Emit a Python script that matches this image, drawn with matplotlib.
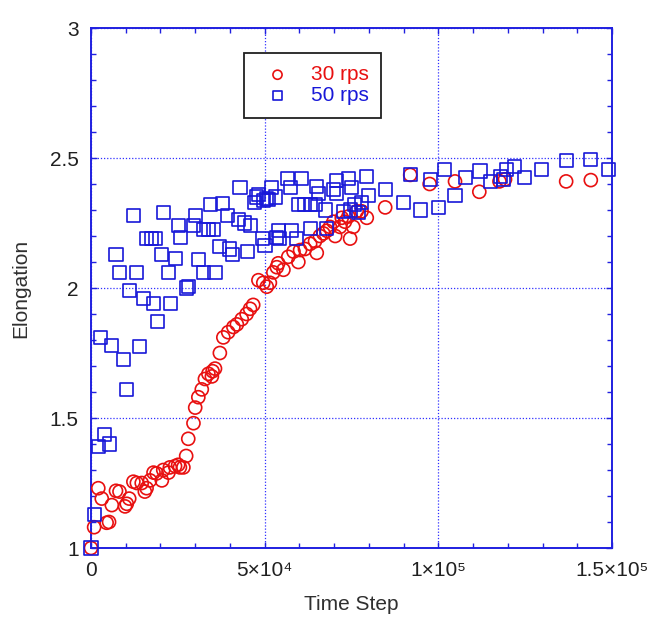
import matplotlib
matplotlib.use("Agg")
import matplotlib.pyplot as plt
from matplotlib.ticker import MultipleLocator, FixedLocator
import numpy as np

# ---- data (time step in thousands, elongation) ----
x30_k = [0, 0.9, 2.1, 3.1, 4.5, 5.2, 6.0, 7.2, 8.2, 9.8, 10.3, 11.0, 12.2, 13.2, 14.6,
         15.5, 16.0, 17.0, 18.0, 18.9, 20.4, 20.8, 22.3, 22.7, 24.2, 25.1, 25.6, 26.6,
         27.4, 28.0, 29.5, 30.0, 30.9, 31.9, 32.8, 33.8, 34.8, 35.0, 35.7, 37.1, 38.1,
         39.5, 41.0, 42.0, 43.4, 44.8, 45.8, 46.7, 48.2, 49.6, 50.6, 51.5, 52.5, 53.5,
         53.9, 55.4, 56.8, 58.3, 59.7, 60.2, 61.6, 63.1, 64.5, 65.0, 65.9, 66.9, 67.9,
         68.8, 69.8, 70.3, 71.7, 72.2, 73.1, 74.1, 74.6, 75.5, 76.5, 77.9, 79.4, 84.7,
         91.9, 97.5, 104.8, 111.8, 117.6, 119.2, 136.8, 143.9]
y30 = [1.00, 1.08, 1.23, 1.19, 1.097, 1.10, 1.165, 1.22, 1.217, 1.16, 1.17, 1.19, 1.255,
       1.25, 1.25, 1.217, 1.23, 1.26, 1.29, 1.287, 1.26, 1.30, 1.29, 1.31, 1.315, 1.32,
       1.31, 1.31, 1.354, 1.42, 1.48, 1.54, 1.58, 1.61, 1.65, 1.67, 1.66, 1.68, 1.69,
       1.75, 1.81, 1.83, 1.85, 1.86, 1.88, 1.90, 1.92, 1.935, 2.03, 2.02, 2.005, 2.02,
       2.06, 2.08, 2.095, 2.07, 2.12, 2.14, 2.10, 2.146, 2.15, 2.17, 2.18, 2.135, 2.20,
       2.21, 2.22, 2.235, 2.255, 2.20, 2.235, 2.27, 2.255, 2.275, 2.19, 2.235, 2.295,
       2.295, 2.27, 2.31, 2.435, 2.40, 2.41, 2.37, 2.41, 2.418, 2.41, 2.415]

x50_k = [0, 0.9, 2.1, 4.0, 5.3, 2.6, 6.0, 9.3, 10.3, 14.1, 19.1, 15.1, 17.9, 22.9, 11.0,
         27.4, 28.0, 8.2, 13.1, 22.3, 32.3, 35.7, 30.9, 7.2, 20.2, 24.2, 37.1, 40.0, 40.8,
         45.0, 49.4, 50.1, 54.0, 53.5, 16.0, 17.5, 18.7, 25.9, 32.3, 33.8, 35.2, 25.1,
         29.5, 42.4, 44.3, 45.8, 39.3, 12.2, 21.0, 30.1, 34.3, 37.9, 42.9, 47.7, 47.2,
         51.0, 52.0, 48.2, 49.6, 50.6, 53.0, 56.5, 57.3, 60.7, 54.4, 57.8, 59.2, 63.1,
         67.9, 59.7, 61.6, 63.1, 64.5, 67.4, 65.5, 65.0, 69.8, 70.7, 70.7, 72.6, 74.6,
         76.0, 77.0, 77.9, 74.1, 75.0, 79.2, 79.9, 84.9, 89.9, 94.9, 91.9, 97.8, 100.0,
         101.9, 104.8, 107.7, 112.0, 114.9, 117.8, 118.7, 119.7, 121.8, 124.7, 129.8,
         136.8, 143.9, 148.9]
y50 = [1.00, 1.13, 1.39, 1.435, 1.40, 1.81, 1.777, 1.726, 1.61, 1.775, 1.87, 1.96, 1.94,
       1.94, 1.99, 2.00, 2.005, 2.06, 2.06, 2.06, 2.06, 2.06, 2.11, 2.13, 2.13, 2.115,
       2.16, 2.15, 2.13, 2.14, 2.19, 2.165, 2.22, 2.195, 2.19, 2.19, 2.19, 2.195, 2.225,
       2.225, 2.225, 2.24, 2.24, 2.265, 2.25, 2.24, 2.277, 2.28, 2.29, 2.28, 2.32, 2.326,
       2.387, 2.35, 2.33, 2.34, 2.387, 2.358, 2.335, 2.345, 2.35, 2.42, 2.387, 2.42,
       2.19, 2.22, 2.19, 2.23, 2.23, 2.32, 2.32, 2.32, 2.32, 2.30, 2.364, 2.39, 2.377,
       2.364, 2.415, 2.295, 2.30, 2.32, 2.29, 2.33, 2.42, 2.387, 2.43, 2.354, 2.377,
       2.33, 2.30, 2.435, 2.418, 2.31, 2.454, 2.354, 2.426, 2.45, 2.41, 2.43, 2.418,
       2.456, 2.467, 2.426, 2.454, 2.49, 2.495, 2.454]

labels = ["30 rps", "50 rps"]
x_tick_vals = [0, 50000, 100000, 150000]
x_tick_labels = ["0", "5×10⁴", "1×10⁵", "1.5×10⁵"]
y_tick_vals = [1, 1.5, 2, 2.5, 3]
y_tick_labels = ["1", "1.5", "2", "2.5", "3"]

red = "#e81010"
blue = "#1818d8"
font = ["Liberation Sans", "DejaVu Sans"]
plt.rcParams["font.family"] = font

fig = plt.figure(figsize=(6.59, 6.19), dpi=100)
ax = fig.add_axes([91/659, 1-548/619, 521/659, 520/619])

x30 = np.array(x30_k) * 1000
x50 = np.array(x50_k) * 1000

ax.scatter(x30, y30, s=88, marker="o", facecolors="none", edgecolors=red,
           linewidths=1.2, label=labels[0], zorder=3, clip_on=False)
ax.scatter(x50, y50, s=88, marker="s", facecolors="none", edgecolors=blue,
           linewidths=1.2, label=labels[1], zorder=3, clip_on=False)

ax.set_xlim(0, 150000)
ax.set_ylim(1, 3)
ax.xaxis.set_major_locator(FixedLocator(x_tick_vals))
ax.set_xticklabels(x_tick_labels)
ax.yaxis.set_major_locator(FixedLocator(y_tick_vals))
ax.set_yticklabels(y_tick_labels)
ax.xaxis.set_minor_locator(MultipleLocator(10000))
ax.yaxis.set_minor_locator(MultipleLocator(0.1))

ax.grid(True, which="major", color="#3030ff", linestyle=(0, (1, 1.5)), linewidth=0.9)
for sp in ax.spines.values():
    sp.set_color("#2020e0")
    sp.set_linewidth(1.4)
ax.tick_params(which="both", direction="in", top=True, right=True, color="#2020e0",
               labelsize=15, labelcolor="#202020", width=1.0)
ax.tick_params(axis="x", which="major", length=4, pad=9)
ax.tick_params(axis="y", which="major", length=4, pad=9)
ax.tick_params(which="minor", length=3.5)

ax.set_xlabel("Time Step", fontsize=15, color="#303030", labelpad=11)
ax.set_ylabel("Elongation", fontsize=15, color="#303030", labelpad=14)

leg = ax.legend(loc="upper left", bbox_to_anchor=(0.294, 0.9525), borderaxespad=0,
                fancybox=False, edgecolor="#202020", framealpha=1, fontsize=15,
                handletextpad=0.6, borderpad=0.6, labelspacing=0.1, markerscale=0.7)
leg.get_frame().set_linewidth(1.3)
for t, c in zip(leg.get_texts(), [red, blue]):
    t.set_color(c)

fig.savefig("out.png", dpi=100)
